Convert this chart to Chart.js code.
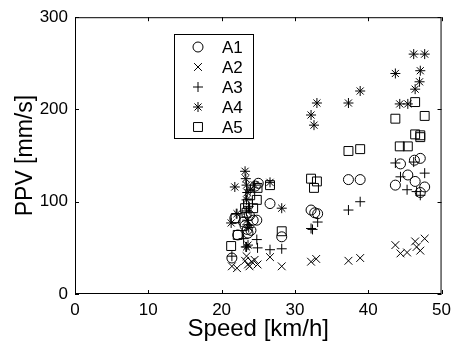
<!DOCTYPE html>
<html>
<head>
<meta charset="utf-8">
<script src="https://cdn.jsdelivr.net/npm/chart.js@4/dist/chart.umd.min.js"></script>
<style>
  html, body { margin: 0; padding: 0; background: #fff; }
  #wrap { width: 457px; height: 347px; }
</style>
</head>
<body>
<div id="wrap"><canvas id="ppvChart"></canvas></div>
<script>
const seriesNames = ["A1", "A2", "A3", "A4", "A5"];
const pointStyles = ["circle", "crossRot", "cross", "star", "rect"];

const a1Speed = [21.4, 21.8, 22.2, 23.0, 23.2, 23.5, 23.6, 23.8, 24.0, 24.3, 24.8, 25.0, 24.6, 26.6, 28.2, 32.2, 32.7, 33.1, 37.3, 38.9, 43.7, 44.4, 45.4, 46.3, 46.4, 47.1, 47.1, 47.7];
const a1Ppv = [39, 82, 64, 78, 74, 70, 66, 85, 69, 80, 80, 120, 117, 98, 62, 91, 88, 87, 124, 124, 118, 141, 129, 145, 122, 147, 110, 116];

const a2Speed = [21.4, 22.1, 23.2, 23.4, 23.6, 23.8, 24.1, 24.5, 24.9, 26.6, 28.2, 32.2, 32.9, 37.3, 38.9, 43.7, 44.4, 45.3, 46.4, 46.6, 47.1, 47.7];
const a2Ppv = [30, 28, 36, 41, 32, 30, 35, 37, 32, 40, 30, 35, 38, 36, 39, 53, 44, 45, 57, 51, 47, 60];

const a3Speed = [21.4, 22.0, 23.0, 23.3, 23.5, 23.7, 24.8, 24.9, 26.6, 28.2, 32.2, 32.4, 33.1, 37.3, 38.9, 43.7, 44.4, 45.3, 46.2, 46.6, 47.1, 47.7];
const a3Ppv = [41, 87, 60, 51, 75, 95, 59, 50, 48, 49, 71, 70, 78, 91, 100, 142, 127, 113, 143, 111, 107, 131];

const a4Speed = [21.3, 21.8, 22.1, 23.2, 23.3, 23.4, 23.4, 23.5, 23.4, 23.5, 23.4, 23.6, 23.7, 23.9, 24.5, 26.6, 28.2, 32.2, 32.6, 33.0, 37.3, 38.9, 43.7, 44.3, 45.4, 46.2, 46.4, 47.0, 47.1, 47.7];
const a4Ppv = [77, 116, 87, 133, 125, 102, 118, 110, 90, 80, 51, 53, 72, 113, 118, 121, 93, 194, 183, 207, 207, 220, 239, 206, 206, 260, 222, 230, 242, 260];

const a5Speed = [21.3, 21.9, 22.2, 23.2, 23.4, 23.6, 23.9, 24.3, 24.8, 24.9, 26.6, 28.2, 32.2, 32.6, 33.0, 37.3, 38.9, 43.7, 44.3, 45.4, 46.4, 46.4, 47.1, 47.1, 47.7];
const a5Ppv = [52, 82, 64, 93, 88, 98, 107, 93, 102, 115, 118, 68, 125, 115, 122, 155, 157, 190, 160, 160, 208, 173, 172, 170, 193];

const xTicks = [0, 10, 20, 30, 40, 50];
const yTicks = [0, 100, 200, 300];

const speeds = [a1Speed, a2Speed, a3Speed, a4Speed, a5Speed];
const ppvs = [a1Ppv, a2Ppv, a3Ppv, a4Ppv, a5Ppv];
const radii = [5, 5.5, 5, 5, 6.3];
const FONT = "'Liberation Sans', Arial, sans-serif";

function toPoints(xs, ys) {
  return xs.map((x, i) => ({ x: x, y: ys[i] }));
}

// box round the plot, inward ticks on all four sides, legend inside
const boxPlugin = {
  id: "box",
  afterDraw(chart) {
    const ctx = chart.ctx;
    const a = chart.chartArea;
    const xs = chart.scales.x;
    const ys = chart.scales.y;
    ctx.save();
    ctx.strokeStyle = "#000";
    ctx.lineWidth = 1;
    ctx.strokeRect(a.left + 0.5, a.top + 0.5, a.right - a.left - 1, a.bottom - a.top - 1);
    ctx.beginPath();
    xTicks.forEach((v) => {
      const px = Math.round(xs.getPixelForValue(v)) + 0.5;
      ctx.moveTo(px, a.bottom); ctx.lineTo(px, a.bottom - 4);
      ctx.moveTo(px, a.top); ctx.lineTo(px, a.top + 4);
    });
    yTicks.forEach((v) => {
      const py = Math.round(ys.getPixelForValue(v)) + 0.5;
      ctx.moveTo(a.left, py); ctx.lineTo(a.left + 4, py);
      ctx.moveTo(a.right, py); ctx.lineTo(a.right - 4, py);
    });
    ctx.stroke();

    // legend
    const lx = 174.5, ly = 34.5, lw = 79, lh = 104;
    ctx.fillStyle = "#fff";
    ctx.fillRect(lx, ly, lw, lh);
    ctx.strokeRect(lx, ly, lw, lh);
    ctx.font = "17px " + FONT;
    ctx.textBaseline = "middle";
    ctx.textAlign = "left";
    seriesNames.forEach((name, i) => {
      const cy = 47 + i * 20;
      ctx.fillStyle = "rgba(0,0,0,0)";
      Chart.helpers.drawPoint(ctx, {
        pointStyle: pointStyles[i],
        radius: radii[i],
        borderWidth: 1
      }, 198, cy);
      ctx.fillStyle = "#000";
      ctx.fillText(name, 222, cy + 1);
    });
    ctx.restore();
  }
};

new Chart(document.getElementById("ppvChart"), {
  type: "scatter",
  data: {
    datasets: seriesNames.map((name, i) => ({
      label: name,
      data: toPoints(speeds[i], ppvs[i]),
      pointStyle: pointStyles[i],
      pointRadius: radii[i],
      pointHoverRadius: radii[i],
      borderColor: "#000",
      backgroundColor: "rgba(0,0,0,0)",
      borderWidth: 1
    }))
  },
  options: {
    responsive: true,
    maintainAspectRatio: false,
    animation: false,
    layout: { padding: { top: 17, right: 12, left: 0, bottom: 0 } },
    plugins: {
      legend: { display: false },
      tooltip: { enabled: false }
    },
    scales: {
      x: {
        type: "linear",
        min: 0,
        max: 50,
        afterBuildTicks: (s) => { s.ticks = xTicks.map((v) => ({ value: v })); },
        afterFit: (s) => { s.height = 53; },
        grid: { display: false, drawTicks: false },
        border: { display: false },
        ticks: {
          color: "#000",
          padding: 6,
          font: { family: FONT, size: 17 }
        },
        title: {
          display: true,
          text: "Speed [km/h]",
          color: "#000",
          padding: { top: 0, bottom: 3 },
          font: { family: FONT, size: 24 }
        }
      },
      y: {
        type: "linear",
        min: 0,
        max: 300,
        afterBuildTicks: (s) => { s.ticks = yTicks.map((v) => ({ value: v })); },
        afterFit: (s) => { s.width = 75; },
        grid: { display: false, drawTicks: false },
        border: { display: false },
        ticks: {
          color: "#000",
          padding: 7,
          font: { family: FONT, size: 17 }
        },
        title: {
          display: true,
          text: "PPV [mm/s]",
          color: "#000",
          padding: { top: 12, bottom: 0 },
          font: { family: FONT, size: 23 }
        }
      }
    }
  },
  plugins: [boxPlugin]
});
</script>
</body>
</html>
